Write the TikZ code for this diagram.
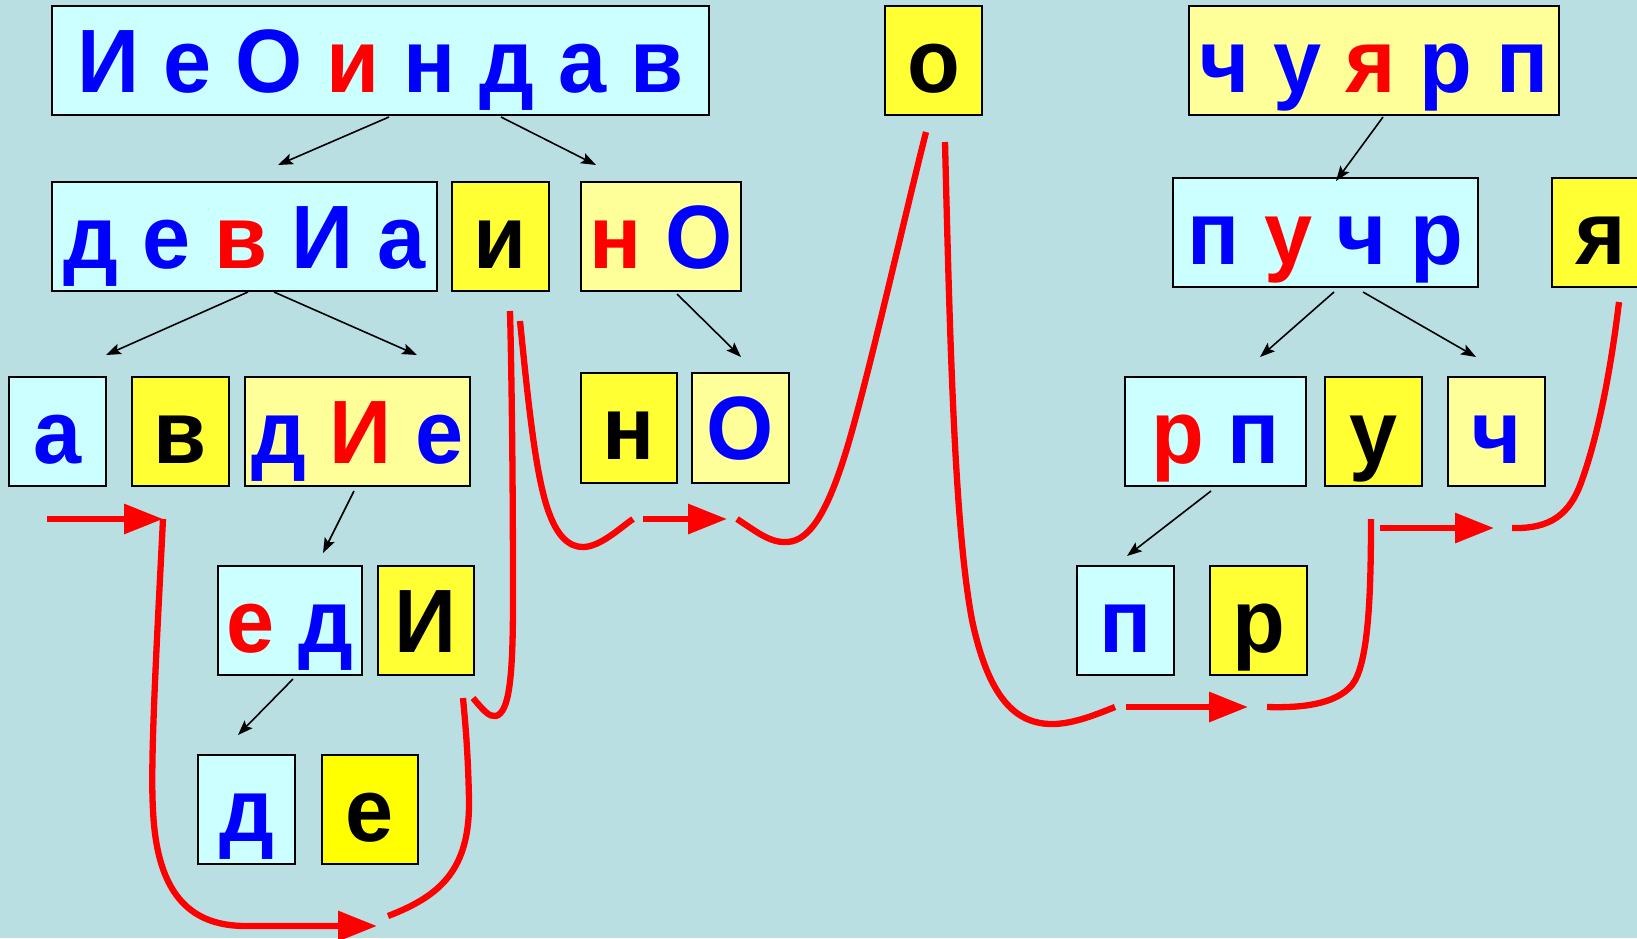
\documentclass[tikz,border=0pt]{standalone}
\usepackage{fontspec}
\setmainfont{Liberation Sans}[FakeStretch=0.96]
\usetikzlibrary{arrows.meta}
\definecolor{bg}{RGB}{186,223,226}
\definecolor{cyanbox}{RGB}{204,255,255}
\definecolor{lyel}{RGB}{255,255,153}
\definecolor{yel}{RGB}{255,255,51}
\definecolor{pyel}{RGB}{255,255,0}
\definecolor{tblue}{RGB}{0,0,255}
\definecolor{tred}{RGB}{255,0,0}
\newcommand\cB[1]{\textcolor{tblue}{#1}}
\newcommand\cR[1]{\textcolor{tred}{#1}}
\begin{document}
\begin{tikzpicture}[x=1pt,y=-1pt,
  box/.style={draw=black, line width=2pt, inner sep=0pt, outer sep=0pt, anchor=north west,
    font=\bfseries\fontsize{90}{90}\selectfont, text height=63pt, text depth=0pt},
  sz/.style 2 args={minimum width=#1pt, minimum height=#2pt},
  cb/.style={box, fill=cyanbox},
  ly/.style={box, fill=lyel},
  yb/.style={box, fill=yel},
  pyb/.style={box, fill=pyel},
  blk/.style={draw=black, line width=1.6pt, -{Stealth[length=15pt,width=11pt,inset=3pt]}},
  rl/.style={draw=tred, line width=6.3pt},
  ra/.style={rl, -{Triangle[length=39pt,width=29pt]}}]
\useasboundingbox (0,0) rectangle (1637,938);
\clip (0,0) rectangle (1637,938);
\fill[bg] (0,0) rectangle (1637,938);

% boxes
\node[cb, sz={657}{109}] (top) at (52,6) {\cB{И} \cB{е} \cB{О} \cR{и} \cB{н} \cB{д} \cB{а} \cB{в}};
\node[yb, sz={97}{109}] (o) at (885,6) {о};
\node[ly, sz={370}{109}] (chu) at (1189,6) {\cB{ч} \cB{у} \cR{я} \cB{р} \cB{п}};
\node[cb, sz={385}{109}] (dev) at (52,182) {\cB{д} \cB{е} \cR{в} \cB{И} \cB{а}};
\node[yb, sz={97}{109}] (i) at (452,182) {и};
\node[ly, sz={160}{109}] (nO) at (581,182) {\cR{н} \cB{О}};
\node[cb, sz={305}{109}] (puchr) at (1173,178) {\cB{п} \cR{у} \cB{ч} \cB{р}};
\node[yb, sz={97}{109}] (ya) at (1552,178) {я};
\node[cb, sz={97}{109}] (a) at (9,377) {\cB{а}};
\node[yb, sz={97}{109}] (v) at (132,377) {в};
\node[ly, sz={225}{109}] (dIe) at (245,377) {\cB{д} \cR{И} \cB{е}};
\node[yb, sz={96}{110}] (n) at (581,373) {н};
\node[ly, sz={97}{110}] (O) at (692,373) {\cB{О}};
\node[cb, sz={181}{109}] (rp) at (1125,377) {\cR{р} \cB{п}};
\node[yb, sz={97}{109}] (u) at (1325,377) {у};
\node[ly, sz={97}{109}] (ch) at (1448,377) {\cB{ч}};
\node[cb, sz={144}{109}] (ed) at (218,566) {\cR{е} \cB{д}};
\node[yb, sz={96}{109}] (I) at (378,566) {И};
\node[cb, sz={97}{109}] (d) at (198,755) {\cB{д}};
\node[pyb, sz={96}{109}] (e) at (322,755) {е};
\node[cb, sz={97}{109}] (p) at (1077,566) {\cB{п}};
\node[yb, sz={97}{109}] (r) at (1210,566) {р};

% black arrow end points
\coordinate (k1s) at (389,117); \coordinate (k1e) at (278,165);
\coordinate (k2s) at (501,117); \coordinate (k2e) at (596,165);
\coordinate (k3s) at (248,292); \coordinate (k3e) at (106,355);
\coordinate (k4s) at (274,292); \coordinate (k4e) at (417,355);
\coordinate (k5s) at (677,294); \coordinate (k5e) at (741,357);
\coordinate (k6s) at (354,491); \coordinate (k6e) at (323,553);
\coordinate (k7s) at (293,679); \coordinate (k7e) at (238,735);
\coordinate (k8s) at (1383,117); \coordinate (k8e) at (1336,181);
\coordinate (k9s) at (1334,292); \coordinate (k9e) at (1260,357);
\coordinate (k10s) at (1363,292); \coordinate (k10e) at (1476,357);
\coordinate (k11s) at (1211,491); \coordinate (k11e) at (1127,556);
\foreach \k in {1,...,11} {\draw[blk] (k\k s) -- (k\k e);}

% red path points
\coordinate (r1a) at (47,519);   \coordinate (r1b) at (163,519);
\coordinate (r2m) at (153,810);  \coordinate (r2c) at (246,926); \coordinate (r2e) at (377,926);
\coordinate (r3a) at (388,916);  \coordinate (r3m) at (469,800); \coordinate (r3e) at (463,698);
\coordinate (r4a) at (473,698);  \coordinate (r4m) at (496,716); \coordinate (r4n) at (513,600); \coordinate (r4e) at (510,311);
\coordinate (r5a) at (520,321);  \coordinate (r5m) at (547,507); \coordinate (r5n) at (583,547); \coordinate (r5e) at (633,519);
\coordinate (r6a) at (643,519);  \coordinate (r6e) at (727,519);
\coordinate (r7a) at (737,519);  \coordinate (r7m) at (787,542); \coordinate (r7n) at (848,445); \coordinate (r7e) at (926,132);
\coordinate (r8a) at (945,142);  \coordinate (r8m) at (972,620); \coordinate (r8n) at (1055,724); \coordinate (r8e) at (1115,707);
\coordinate (r9a) at (1126,707); \coordinate (r9e) at (1248,707);
\coordinate (r10a) at (1267,707); \coordinate (r10m) at (1352,685); \coordinate (r10e) at (1371,519);
\coordinate (r11a) at (1380,528); \coordinate (r11e) at (1494,528);
\coordinate (r12a) at (1512,528); \coordinate (r12m) at (1582,480); \coordinate (r12e) at (1619,302);

\draw[ra] (r1a) -- (r1b);
\draw[ra] (r1b) .. controls (157,640) and (150,760) .. (r2m)
  .. controls (157,900) and (195,926) .. (r2c) -- (r2e);
\draw[rl] (r3a) .. controls (440,896) and (470,870) .. (r3m)
  .. controls (468,750) and (465,720) .. (r3e);
\draw[rl] (r4a) .. controls (484,711) and (489,717) .. (r4m)
  .. controls (509,712) and (513,680) .. (r4n) .. controls (513,450) and (511,350) .. (r4e);
\draw[rl] (r5a) .. controls (528,400) and (535,470) .. (r5m)
  .. controls (557,538) and (570,547) .. (r5n) .. controls (600,547) and (620,528) .. (r5e);
\draw[ra] (r6a) -- (r6e);
\draw[rl] (r7a) .. controls (757,532) and (770,543) .. (r7m)
  .. controls (812,541) and (830,505) .. (r7n) .. controls (870,370) and (905,215) .. (r7e);
\draw[rl] (r8a) .. controls (950,350) and (955,530) .. (r8m)
  .. controls (990,705) and (1020,725) .. (r8n) .. controls (1075,723) and (1095,715) .. (r8e);
\draw[ra] (r9a) -- (r9e);
\draw[rl] (r10a) .. controls (1300,708) and (1335,705) .. (r10m)
  .. controls (1368,665) and (1371,600) .. (r10e);
\draw[ra] (r11a) -- (r11e);
\draw[rl] (r12a) .. controls (1550,529) and (1570,515) .. (r12m)
  .. controls (1600,430) and (1612,360) .. (r12e);
\end{tikzpicture}
\end{document}
